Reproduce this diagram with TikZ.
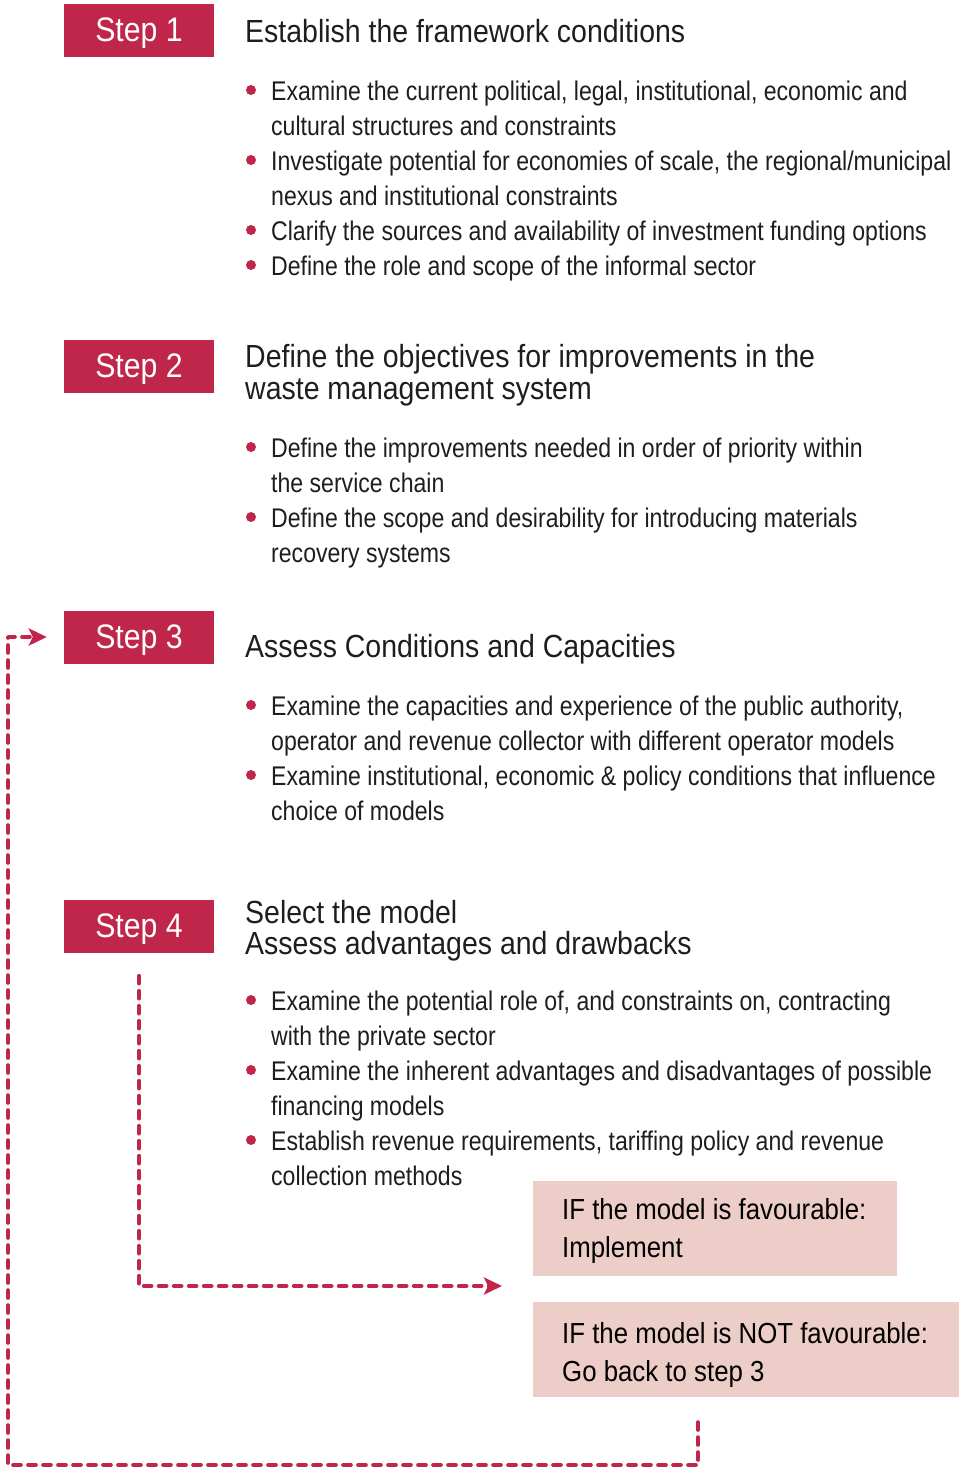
\documentclass[tikz,border=0pt]{standalone}
\usepackage{fontspec}
\setmainfont{Liberation Sans}[FakeStretch=0.855]
\newfontfamily\hfont{Liberation Sans}[FakeStretch=0.89]
\usetikzlibrary{arrows.meta}
\definecolor{stepred}{HTML}{C0264A}
\definecolor{pinkbox}{HTML}{EDCDC8}
\definecolor{txt}{HTML}{1E1E1E}
\tikzset{
  stepbox/.style={fill=stepred, text=white, minimum width=150pt, minimum height=53pt, inner sep=0pt, text depth=0pt, font=\hfont\fontsize{34}{40}\selectfont},
  headtxt/.style={anchor=base west, inner sep=0pt, text=txt, font=\hfont\fontsize{32}{38}\selectfont},
  bodytxt/.style={anchor=base west, inner sep=0pt, text=txt, font=\fontsize{27}{35}\selectfont},
  bulletdot/.style={circle, fill=stepred, inner sep=0pt, minimum size=10pt},
  pbox/.style={fill=pinkbox, anchor=north west, inner sep=0pt},
  ptxt/.style={anchor=base west, inner sep=0pt, text=black, font=\hfont\fontsize{29}{38}\selectfont},
  flow/.style={draw=stepred, line width=3.6pt, dash pattern=on 8pt off 7pt, line cap=round, line join=round, -{Stealth[length=18pt,width=17pt,inset=4pt]}},
}
\newcommand\bline[3]{\node[bodytxt] (#1) at (271,#2) {#3};}
\newcommand\bdot[2]{\node[bulletdot] (#1) at (251,#2) {};}
\begin{document}
\begin{tikzpicture}[x=1pt,y=-1pt]
\useasboundingbox (0,0) rectangle (959,1468);
% Step 1
\node[stepbox] (s1) at (139,30) {Step 1};
\node[headtxt] (h1) at (245,42) {Establish the framework conditions};
\bdot{d11}{90}\bline{l11}{100}{Examine the current political, legal, institutional, economic and}
\bline{l12}{135}{cultural structures and constraints}
\bdot{d12}{160}\bline{l13}{170}{Investigate potential for economies of scale, the regional/municipal}
\bline{l14}{205}{nexus and institutional constraints}
\bdot{d13}{230}\bline{l15}{240}{Clarify the sources and availability of investment funding options}
\bdot{d14}{265}\bline{l16}{275}{Define the role and scope of the informal sector}
% Step 2
\node[stepbox] (s2) at (139,366) {Step 2};
\node[headtxt] (h2a) at (245,367) {Define the objectives for improvements in the};
\node[headtxt] (h2b) at (245,399) {waste management system};
\bdot{d21}{447}\bline{l21}{457}{Define the improvements needed in order of priority within}
\bline{l22}{492}{the service chain}
\bdot{d22}{517}\bline{l23}{527}{Define the scope and desirability for introducing materials}
\bline{l24}{562}{recovery systems}
% Step 3
\node[stepbox] (s3) at (139,637) {Step 3};
\node[headtxt] (h3) at (245,657) {Assess Conditions and Capacities};
\bdot{d31}{705}\bline{l31}{715}{Examine the capacities and experience of the public authority,}
\bline{l32}{750}{operator and revenue collector with different operator models}
\bdot{d32}{775}\bline{l33}{785}{Examine institutional, economic \& policy conditions that influence}
\bline{l34}{820}{choice of models}
% Step 4
\node[stepbox] (s4) at (139,926) {Step 4};
\node[headtxt] (h4a) at (245,923) {Select the model};
\node[headtxt] (h4b) at (245,954) {Assess advantages and drawbacks};
\bdot{d41}{1000}\bline{l41}{1010}{Examine the potential role of, and constraints on, contracting}
\bline{l42}{1045}{with the private sector}
\bdot{d42}{1070}\bline{l43}{1080}{Examine the inherent advantages and disadvantages of possible}
\bline{l44}{1115}{financing models}
\bdot{d43}{1140}\bline{l45}{1150}{Establish revenue requirements, tariffing policy and revenue}
\bline{l46}{1185}{collection methods}
% Outcome boxes
\node[pbox, minimum width=364pt, minimum height=95pt] (p1) at (533,1181) {};
\node[ptxt] (p1a) at (562,1219) {IF the model is favourable:};
\node[ptxt] (p1b) at (562,1257) {Implement};
\node[pbox, minimum width=426pt, minimum height=95pt] (p2) at (533,1302) {};
\node[ptxt] (p2a) at (562,1343) {IF the model is NOT favourable:};
\node[ptxt] (p2b) at (562,1381) {Go back to step 3};
% Connectors
\coordinate (t1) at (502,1286);
\coordinate (r1) at (698,1422);
\coordinate (r2) at (698,1465);
\coordinate (r3) at (8,1465);
\draw[flow] ([yshift=-23pt]s4.south) |- (t1);
\draw[flow] (r1) -- (r2) -- (r3) |- ([xshift=-17pt]s3.west);
\end{tikzpicture}
\end{document}
